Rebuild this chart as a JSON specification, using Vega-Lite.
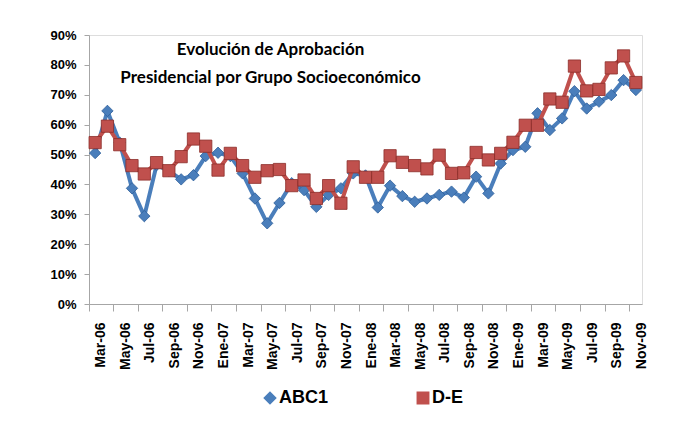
{
  "$schema": "https://vega.github.io/schema/vega-lite/v6.json",
  "autosize": {"type": "none"},
  "width": 553,
  "height": 269,
  "padding": {"left": 89, "top": 35, "right": 37, "bottom": 126},
  "background": "white",
  "title": {
    "text": ["Evolución de Aprobación", "Presidencial por Grupo Socioeconómico"],
    "font": "Lato",
    "fontSize": 17,
    "fontWeight": "bold",
    "color": "black",
    "anchor": "middle",
    "frame": "group",
    "lineHeight": 28,
    "offset": 0,
    "dx": -95,
    "dy": 58
  },
  "data": {"values": [
    {"mes":"Mar-06","serie":"ABC1","v":0.505},{"mes":"Mar-06","serie":"D-E","v":0.54},
    {"mes":"Abr-06","serie":"ABC1","v":0.646},{"mes":"Abr-06","serie":"D-E","v":0.595},
    {"mes":"May-06","serie":"ABC1","v":0.54},{"mes":"May-06","serie":"D-E","v":0.533},
    {"mes":"Jun-06","serie":"ABC1","v":0.387},{"mes":"Jun-06","serie":"D-E","v":0.463},
    {"mes":"Jul-06","serie":"ABC1","v":0.294},{"mes":"Jul-06","serie":"D-E","v":0.435},
    {"mes":"Ago-06","serie":"ABC1","v":0.465},{"mes":"Ago-06","serie":"D-E","v":0.473},
    {"mes":"Sep-06","serie":"ABC1","v":0.445},{"mes":"Sep-06","serie":"D-E","v":0.446},
    {"mes":"Oct-06","serie":"ABC1","v":0.417},{"mes":"Oct-06","serie":"D-E","v":0.493},
    {"mes":"Nov-06","serie":"ABC1","v":0.431},{"mes":"Nov-06","serie":"D-E","v":0.552},
    {"mes":"Dic-06","serie":"ABC1","v":0.495},{"mes":"Dic-06","serie":"D-E","v":0.528},
    {"mes":"Ene-07","serie":"ABC1","v":0.506},{"mes":"Ene-07","serie":"D-E","v":0.448},
    {"mes":"Feb-07","serie":"ABC1","v":0.495},{"mes":"Feb-07","serie":"D-E","v":0.504},
    {"mes":"Mar-07","serie":"ABC1","v":0.437},{"mes":"Mar-07","serie":"D-E","v":0.463},
    {"mes":"Abr-07","serie":"ABC1","v":0.353},{"mes":"Abr-07","serie":"D-E","v":0.424},
    {"mes":"May-07","serie":"ABC1","v":0.27},{"mes":"May-07","serie":"D-E","v":0.446},
    {"mes":"Jun-07","serie":"ABC1","v":0.338},{"mes":"Jun-07","serie":"D-E","v":0.45},
    {"mes":"Jul-07","serie":"ABC1","v":0.404},{"mes":"Jul-07","serie":"D-E","v":0.396},
    {"mes":"Ago-07","serie":"ABC1","v":0.381},{"mes":"Ago-07","serie":"D-E","v":0.415},
    {"mes":"Sep-07","serie":"ABC1","v":0.325},{"mes":"Sep-07","serie":"D-E","v":0.353},
    {"mes":"Oct-07","serie":"ABC1","v":0.365},{"mes":"Oct-07","serie":"D-E","v":0.396},
    {"mes":"Nov-07","serie":"ABC1","v":0.387},{"mes":"Nov-07","serie":"D-E","v":0.337},
    {"mes":"Dic-07","serie":"ABC1","v":0.437},{"mes":"Dic-07","serie":"D-E","v":0.459},
    {"mes":"Ene-08","serie":"ABC1","v":0.43},{"mes":"Ene-08","serie":"D-E","v":0.424},
    {"mes":"Feb-08","serie":"ABC1","v":0.323},{"mes":"Feb-08","serie":"D-E","v":0.424},
    {"mes":"Mar-08","serie":"ABC1","v":0.396},{"mes":"Mar-08","serie":"D-E","v":0.496},
    {"mes":"Abr-08","serie":"ABC1","v":0.361},{"mes":"Abr-08","serie":"D-E","v":0.474},
    {"mes":"May-08","serie":"ABC1","v":0.342},{"mes":"May-08","serie":"D-E","v":0.463},
    {"mes":"Jun-08","serie":"ABC1","v":0.353},{"mes":"Jun-08","serie":"D-E","v":0.452},
    {"mes":"Jul-08","serie":"ABC1","v":0.365},{"mes":"Jul-08","serie":"D-E","v":0.498},
    {"mes":"Ago-08","serie":"ABC1","v":0.376},{"mes":"Ago-08","serie":"D-E","v":0.437},
    {"mes":"Sep-08","serie":"ABC1","v":0.356},{"mes":"Sep-08","serie":"D-E","v":0.439},
    {"mes":"Oct-08","serie":"ABC1","v":0.426},{"mes":"Oct-08","serie":"D-E","v":0.507},
    {"mes":"Nov-08","serie":"ABC1","v":0.37},{"mes":"Nov-08","serie":"D-E","v":0.482},
    {"mes":"Dic-08","serie":"ABC1","v":0.47},{"mes":"Dic-08","serie":"D-E","v":0.504},
    {"mes":"Ene-09","serie":"ABC1","v":0.515},{"mes":"Ene-09","serie":"D-E","v":0.541},
    {"mes":"Feb-09","serie":"ABC1","v":0.526},{"mes":"Feb-09","serie":"D-E","v":0.598},
    {"mes":"Mar-09","serie":"ABC1","v":0.638},{"mes":"Mar-09","serie":"D-E","v":0.598},
    {"mes":"Abr-09","serie":"ABC1","v":0.582},{"mes":"Abr-09","serie":"D-E","v":0.686},
    {"mes":"May-09","serie":"ABC1","v":0.621},{"mes":"May-09","serie":"D-E","v":0.675},
    {"mes":"Jun-09","serie":"ABC1","v":0.712},{"mes":"Jun-09","serie":"D-E","v":0.796},
    {"mes":"Jul-09","serie":"ABC1","v":0.654},{"mes":"Jul-09","serie":"D-E","v":0.713},
    {"mes":"Ago-09","serie":"ABC1","v":0.677},{"mes":"Ago-09","serie":"D-E","v":0.718},
    {"mes":"Sep-09","serie":"ABC1","v":0.699},{"mes":"Sep-09","serie":"D-E","v":0.79},
    {"mes":"Oct-09","serie":"ABC1","v":0.749},{"mes":"Oct-09","serie":"D-E","v":0.83},
    {"mes":"Nov-09","serie":"ABC1","v":0.716},{"mes":"Nov-09","serie":"D-E","v":0.741}
  ]},
  "encoding": {
    "x": {
      "field": "mes", "type": "ordinal", "sort": null,
      "scale": {"type": "band", "paddingInner": 0, "paddingOuter": 0},
      "axis": {
        "title": null,
        "values": ["Mar-06","May-06","Jul-06","Sep-06","Nov-06","Ene-07","Mar-07","May-07","Jul-07","Sep-07","Nov-07","Ene-08","Mar-08","May-08","Jul-08","Sep-08","Nov-08","Ene-09","Mar-09","May-09","Jul-09","Sep-09","Nov-09"],
        "bandPosition": 0,
        "labelOffset": 6,
        "labelAngle": -90,
        "labelAlign": "right",
        "labelBaseline": "middle",
        "labelFont": "Liberation Sans",
        "labelFontWeight": "bold",
        "labelFontSize": 14,
        "labelColor": "black",
        "labelPadding": 11,
        "tickSize": 7,
        "tickColor": "#a6a6a6",
        "domainColor": "#a6a6a6",
        "grid": false
      }
    },
    "y": {
      "field": "v", "type": "quantitative",
      "scale": {"domain": [0, 0.9], "nice": false},
      "axis": {
        "title": null,
        "values": [0, 0.1, 0.2, 0.3, 0.4, 0.5, 0.6, 0.7, 0.8, 0.9],
        "format": ".0%",
        "labelFont": "Liberation Sans",
        "labelFontWeight": "bold",
        "labelFontSize": 13,
        "labelColor": "black",
        "labelPadding": 8,
        "tickSize": 5,
        "tickColor": "#a6a6a6",
        "domainColor": "#a6a6a6",
        "grid": false
      }
    },
    "color": {"field": "serie", "type": "nominal",
      "scale": {"domain": ["ABC1", "D-E"], "range": ["#4a7ebb", "#c0504d"]},
      "legend": {
        "title": null,
        "orient": "none",
        "direction": "horizontal",
        "legendX": 172,
        "legendY": 354,
        "labelFont": "Liberation Sans",
        "labelFontWeight": "bold",
        "labelFontSize": 18,
        "labelColor": "black",
        "labelOffset": 0,
        "symbolSize": 130,
        "symbolOpacity": 1,
        "columnPadding": 85,
        "padding": 0
      }
    }
  },
  "layer": [
    {
      "transform": [{"filter": "datum.serie === 'ABC1'"}],
      "mark": {"type": "line", "strokeWidth": 4}
    },
    {
      "transform": [{"filter": "datum.serie === 'ABC1'"}],
      "mark": {"type": "point", "filled": true, "size": 130, "stroke": "#2f5f9a", "strokeWidth": 0.8, "opacity": 1},
      "encoding": {
        "shape": {"field": "serie", "type": "nominal", "scale": {"domain": ["ABC1", "D-E"], "range": ["diamond", "square"]}}
      }
    },
    {
      "transform": [{"filter": "datum.serie === 'D-E'"}],
      "mark": {"type": "line", "strokeWidth": 4}
    },
    {
      "transform": [{"filter": "datum.serie === 'D-E'"}],
      "mark": {"type": "point", "filled": true, "size": 150, "stroke": "#8c2d2a", "strokeWidth": 0.8, "opacity": 1},
      "encoding": {
        "shape": {"field": "serie", "type": "nominal", "scale": {"domain": ["ABC1", "D-E"], "range": ["diamond", "square"]}}
      }
    }
  ]
}
